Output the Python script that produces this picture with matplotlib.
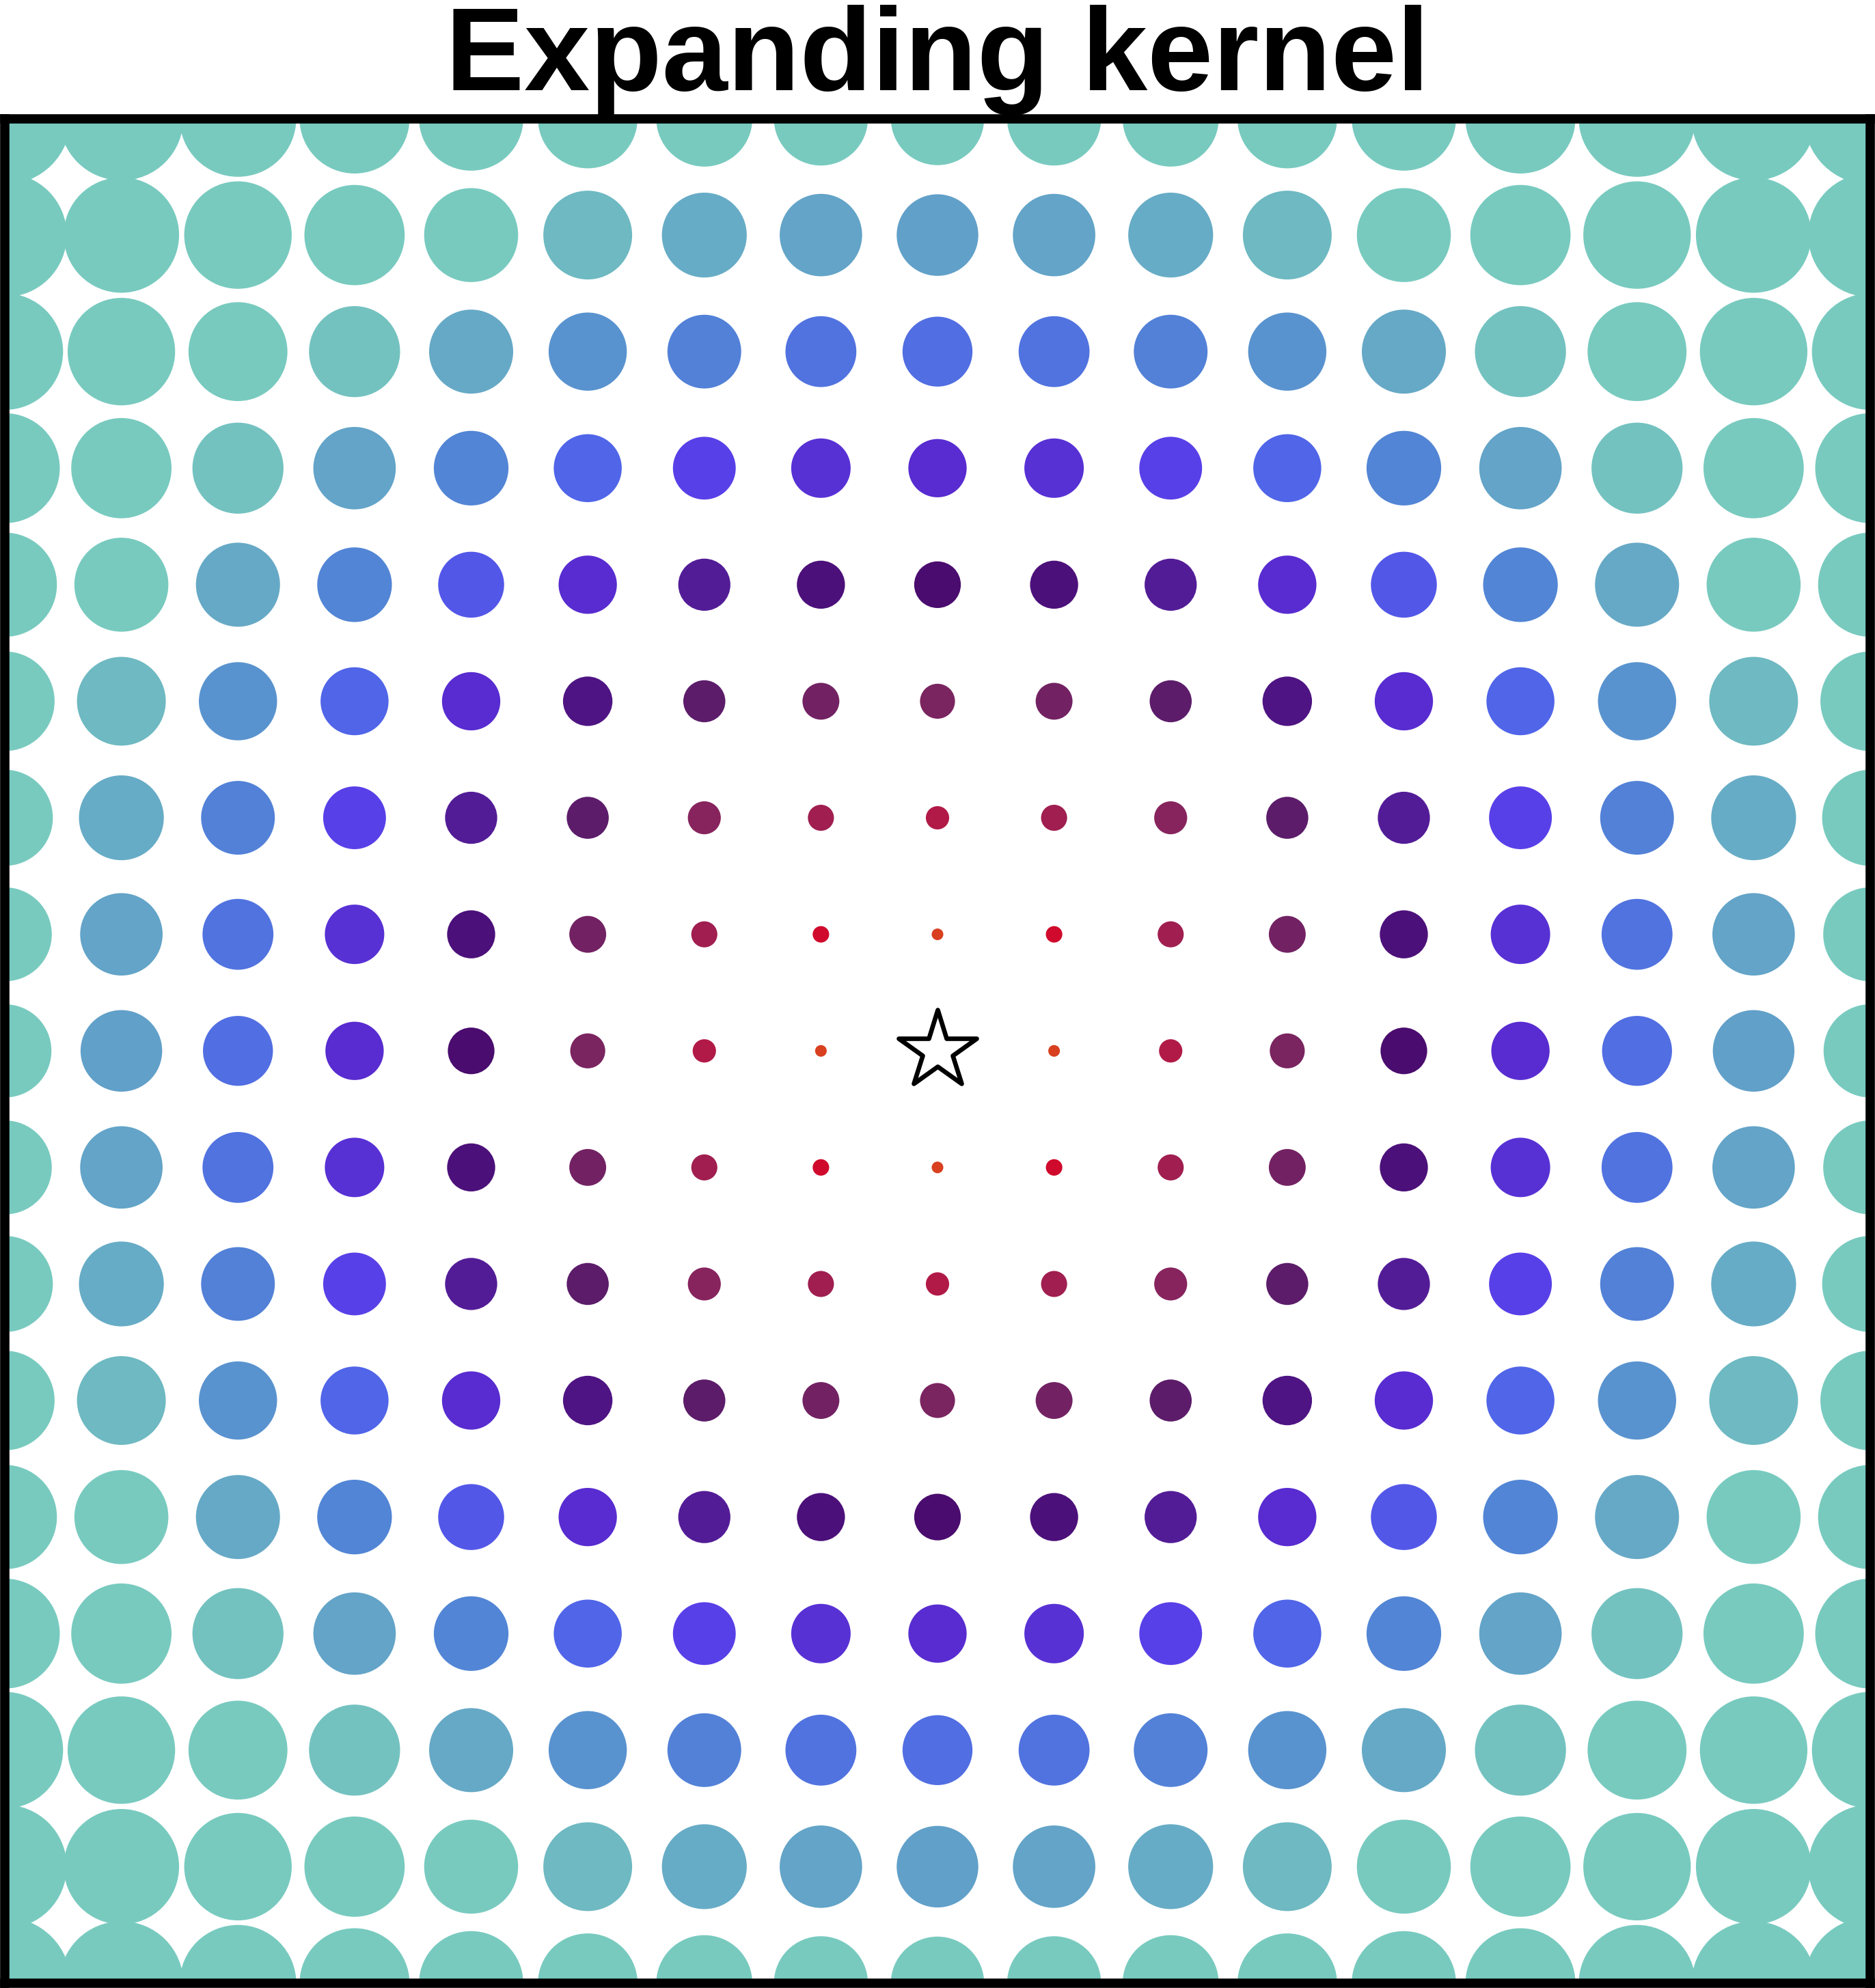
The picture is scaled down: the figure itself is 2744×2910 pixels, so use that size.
import numpy as np
import matplotlib
matplotlib.use("Agg")
import matplotlib.pyplot as plt
from matplotlib.patches import Circle
from matplotlib.collections import PatchCollection
from matplotlib.colors import LinearSegmentedColormap, to_rgb
from matplotlib.markers import MarkerStyle

# grid positions (relative to the centre star)
grid_x = [-8, -7, -6, -5, -4, -3, -2, -1, 0, 1, 2, 3, 4, 5, 6, 7, 8]
grid_y = [-8, -7, -6, -5, -4, -3, -2, -1, 0, 1, 2, 3, 4, 5, 6, 7, 8]

# kernel radius grows with the distance from the centre (grid units per unit distance)
radius_per_dist = 0.05

stop_dist = [1.0, 1.41, 2.0, 2.24, 2.83, 3.0, 3.6, 4.0, 4.47, 5.0, 5.39, 5.83, 6.4, 7.07, 7.8, 8.0]
stop_color = ['#d84020', '#d00a2c', '#b01a48', '#a01e50', '#86245e', '#7a2460', '#5c1c6a',
              '#4a0c6e', '#531c98', '#582ccf', '#5840e8', '#5065e8', '#5285d5', '#62a3c8',
              '#72c0c0', '#78cabf']

title = 'Expanding kernel'

d_min, d_max = stop_dist[0], stop_dist[-1]
cmap = LinearSegmentedColormap.from_list(
    'kernel', [((d - d_min) / (d_max - d_min), to_rgb(c)) for d, c in zip(stop_dist, stop_color)])

fig = plt.figure(figsize=(13.72, 14.55), dpi=200)
ax = fig.add_axes([7 / 2744, 7 / 2910, 2730 / 2744, 2729.5 / 2910])

circles = []
colors = []
for gy in grid_y:
    for gx in grid_x:
        dist = np.hypot(gx, gy)
        if dist == 0:
            continue
        circles.append(Circle((gx, gy), radius_per_dist * dist))
        colors.append(cmap(np.clip((dist - d_min) / (d_max - d_min), 0, 1)))

coll = PatchCollection(circles, facecolors=colors, edgecolors='none', linewidths=0)
ax.add_collection(coll)

# the centre point
ax.plot(0, 0, marker=MarkerStyle('*', joinstyle='round'), ms=43,
        mfc='white', mec='black', mew=2.4, zorder=5)

ax.set_xlim(grid_x[0], grid_x[-1])
ax.set_ylim(grid_y[0], grid_y[-1])
ax.set_aspect('auto')
ax.set_xticks([])
ax.set_yticks([])
for sp in ax.spines.values():
    sp.set_linewidth(4.9)
    sp.set_color('black')

ax.set_title(title, fontsize=62.2, fontweight='bold', family=['Liberation Sans', 'DejaVu Sans'], pad=15)

fig.savefig('out.png', dpi=200)
